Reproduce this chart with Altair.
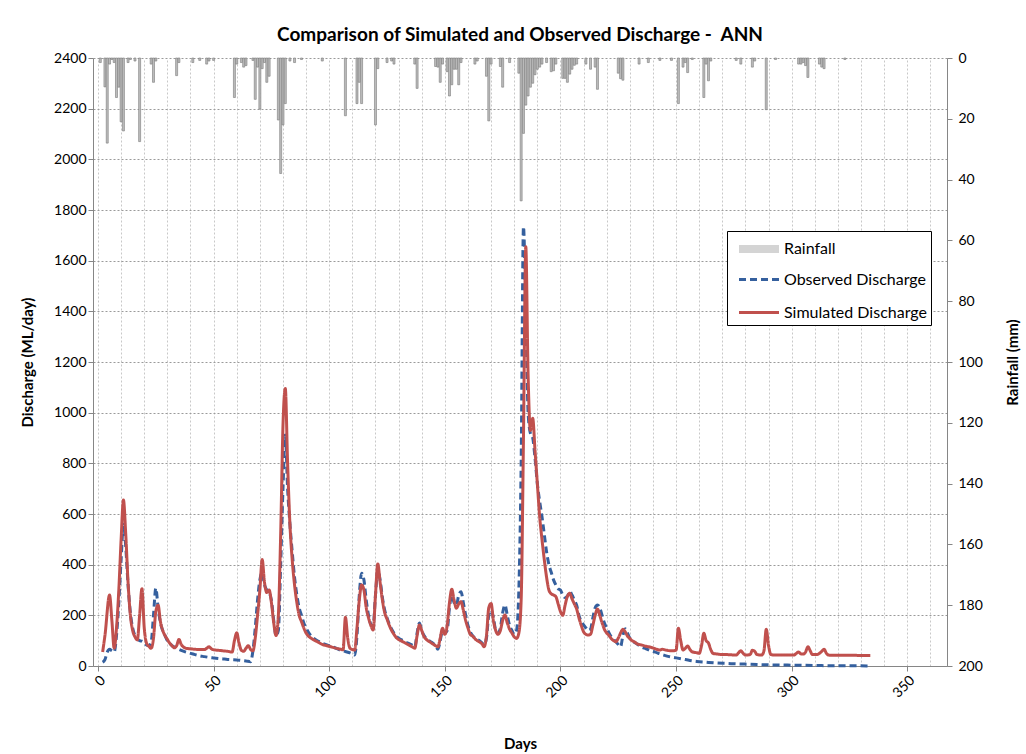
import altair as alt
import pandas as pd

# ---------------- data ----------------
rain_days = [1, 3, 4, 5, 6, 7, 8, 9, 10, 11, 13, 14, 16, 18, 23, 24, 25, 34, 35, 41, 44, 47, 48, 50,
             59, 60, 62, 63, 64, 67, 68, 69, 70, 71, 72, 73, 74, 78, 79, 80, 81, 83, 85, 88, 97,
             107, 112, 113, 114, 120, 121, 125, 127, 128,
             137, 138, 146, 147, 148, 149, 151, 152, 153, 154, 155, 156, 157, 163, 164, 168, 169, 170,
             174, 175, 178, 182, 183, 184, 185, 186, 187, 188, 189, 190, 191, 192, 194, 196, 197, 198,
             201, 202, 203, 204, 205, 206, 207, 211, 213, 215, 216, 225, 226, 227, 234, 238, 243, 248,
             251, 253, 254, 255, 257, 262, 263, 264, 265, 276, 278, 283, 284, 289, 293,
             303, 304, 305, 306, 307, 312, 313, 314, 323]
rain_mm = [1.5, 9.5, 28, 2, 0.5, 1.5, 13, 9.6, 21, 24, 1.5, 0.5, 1, 27.5, 2, 8, 1, 5.8, 1.5, 1.5, 0.8, 2, 1, 0.8,
           13, 2, 1.5, 3, 2.5, 0.8, 13.6, 3, 16.8, 3.5, 1.5, 8, 6, 20.4, 38, 22, 15, 1, 1.5, 0.5, 1,
           19, 15, 8, 15, 22, 3.5, 1.5, 1, 2,
           2, 10, 2.8, 3, 8, 2, 4.5, 12.5, 8.8, 3.7, 3.7, 8.8, 1.5, 2, 1, 6, 20.7, 2,
           2.8, 9.6, 1.5, 5, 47, 24.8, 15.5, 12.5, 9.6, 8.3, 5.5, 3.7, 3, 2, 1.5, 4.5, 4.2, 2,
           6.7, 6.7, 8, 5.3, 3.7, 2.4, 2, 2, 3.7, 3, 10.3, 5, 6.8, 7.3, 2, 1.5, 0.8, 0.8,
           15, 3, 1.5, 4.8, 0.5, 13, 2, 7.5, 1, 0.8, 2, 3, 1, 17, 0.5,
           2, 2, 1.5, 2.5, 6.4, 2, 3, 3.5, 0.5]

obs_days = [2, 3, 4, 5, 6, 7, 8, 9, 10, 11, 12, 13, 14, 15, 16, 17, 18, 19, 20, 21, 22, 23, 24, 25, 26, 27,
            28, 29, 30, 31, 32, 34, 36, 38, 40, 42, 44, 46, 48, 50, 52, 54, 56, 58, 60, 62, 64, 66,
            67, 68, 69, 70, 71, 72, 73, 74, 75, 76, 77, 78, 79, 80, 81, 82, 83, 84, 85, 86, 87, 88, 89,
            90, 92, 94, 97, 100, 103, 105, 107, 109, 110, 111, 112, 113, 114, 115, 116, 117, 118, 119,
            120, 121, 122, 123, 124, 125, 126, 127, 128, 129, 130, 132, 134, 136, 137, 138, 139, 140,
            141, 142, 144, 146, 147, 148, 149, 150, 151, 152, 153, 154, 155, 156, 157, 158, 159, 160,
            161, 162, 163, 165, 167, 168, 169, 170, 171, 172, 173, 174, 175, 176, 177, 178, 179, 180,
            181, 182, 183, 184, 185, 186, 187, 188, 189, 190, 191, 192, 193, 194, 195, 196, 197, 198,
            199, 200, 201, 202, 203, 204, 205, 206, 207, 208, 209, 210, 211, 212, 213, 214, 215, 216,
            217, 218, 219, 220, 221, 222, 223, 224, 225, 226, 227, 228, 229, 230, 231, 233, 235, 237,
            239, 241, 243, 245, 247, 250, 253, 256, 259, 263, 267, 272, 277, 282, 288, 295, 302, 310,
            318, 326, 334]
obs_q = [15, 25, 55, 66, 60, 55, 120, 250, 420, 560, 470, 320, 210, 150, 120, 108, 100, 98, 92, 83, 80, 95,
         200, 307, 230, 170, 140, 120, 100, 90, 80, 70, 62, 55, 50, 45, 40, 37, 34, 32, 30, 28, 26, 25,
         24, 22, 20, 17, 60, 150, 260, 340, 370, 320, 300, 290, 260, 180, 120, 140, 400, 700, 912, 700,
         560, 450, 350, 280, 230, 200, 170, 150, 120, 105, 90, 80, 70, 62, 57, 52, 48, 43, 120, 280,
         366, 340, 260, 200, 165, 160, 280, 380, 340, 270, 220, 190, 165, 145, 130, 118, 110, 100,
         90, 82, 75, 130, 170, 140, 120, 108, 95, 80, 66, 100, 140, 130, 140, 230, 280, 250, 240, 280,
         293, 250, 200, 160, 135, 120, 110, 100, 85, 110, 200, 220, 190, 140, 130, 150, 210, 241, 200,
         160, 140, 125, 140, 300, 800, 1734, 1400, 1000, 918, 900, 820, 720, 650, 590, 520, 450, 400,
         370, 340, 320, 305, 300, 280, 270, 275, 295, 280, 260, 240, 200, 175, 162, 150, 140, 145, 190,
         230, 241, 230, 200, 170, 150, 130, 115, 105, 95, 85, 76, 120, 147, 130, 110, 100, 88, 75, 68,
         60, 55, 48, 42, 37, 32, 27, 22, 18, 15, 12, 10, 8, 7, 5, 4, 3, 2, 1, 1, 0]

sim_days = [2, 3, 5, 6, 7, 8, 9, 10, 11, 12, 13, 14, 15, 16, 17, 18, 19, 20, 21, 22, 23, 24, 25, 26, 27,
            28, 29, 30, 31, 32, 33, 34, 35, 36, 37, 38, 40, 42, 44, 46, 47, 48, 49, 50, 52, 54, 56, 58,
            59, 60, 61, 62, 63, 64, 65, 66, 67, 68, 69, 70, 71, 72, 73, 74, 75, 76, 77, 78, 79, 80, 81,
            82, 83, 84, 85, 86, 87, 88, 89, 90, 91, 93, 95, 97, 99, 101, 103, 105, 106, 107, 108, 109,
            110, 111, 112, 113, 114, 115, 116, 117, 118, 119, 120, 121, 122, 123, 124, 125, 126, 127,
            128, 129, 130, 132, 134, 136, 137, 138, 139, 140, 141, 142, 144, 146, 147, 148, 149, 150,
            151, 152, 153, 154, 155, 156, 157, 158, 159, 160, 161, 162, 163, 164, 165, 166, 167, 168,
            169, 170, 171, 172, 173, 174, 175, 176, 177, 178, 179, 180, 181, 182, 183, 184, 185, 186,
            187, 188, 189, 190, 191, 192, 193, 194, 195, 196, 197, 198, 199, 200, 201, 202, 203, 204,
            205, 206, 207, 208, 209, 210, 211, 212, 213, 214, 215, 216, 217, 218, 219, 220, 221, 222,
            223, 224, 225, 226, 227, 228, 229, 230, 231, 232, 233, 235, 237, 239, 241, 243, 244, 246,
            248, 250, 251, 252, 253, 254, 255, 256, 257, 259, 260, 261, 262, 263, 264, 265, 266, 268,
            270, 272, 274, 276, 277, 278, 279, 280, 282, 283, 284, 285, 287, 288, 289, 290, 291, 293,
            295, 297, 299, 301, 302, 303, 304, 305, 306, 307, 308, 309, 311, 312, 313, 314, 315, 316,
            318, 320, 322, 324, 326, 328, 330, 332, 334]
sim_q = [55, 120, 280, 180, 70, 150, 300, 500, 655, 520, 330, 200, 140, 115, 103, 200, 305, 150, 90, 78,
         70, 110, 215, 240, 175, 140, 120, 105, 90, 80, 72, 80, 105, 85, 75, 70, 68, 66, 65, 65, 70, 76,
         68, 64, 62, 60, 58, 55, 100, 131, 90, 62, 58, 70, 80, 65, 60, 110, 200, 300, 420, 330, 290,
         300, 250, 170, 120, 200, 520, 950, 1095, 800, 560, 418, 320, 250, 200, 175, 150, 130, 118,
         105, 95, 85, 80, 75, 70, 66, 64, 192, 110, 70, 65, 63, 150, 260, 320, 300, 230, 190, 160,
         142, 280, 403, 330, 260, 210, 185, 160, 140, 125, 112, 105, 95, 85, 75, 70, 120, 162, 140,
         116, 105, 92, 80, 76, 110, 149, 125, 160, 250, 303, 260, 228, 245, 254, 220, 180, 150, 125,
         118, 108, 100, 95, 88, 76, 120, 230, 247, 180, 140, 125, 140, 180, 201, 170, 145, 130, 115,
         109, 130, 260, 900, 1655, 1150, 930, 978, 850, 720, 590, 500, 420, 350, 300, 285, 280, 274,
         245, 215, 200, 240, 275, 287, 265, 245, 225, 190, 160, 135, 125, 122, 125, 160, 200, 225, 200,
         170, 145, 130, 120, 108, 100, 96, 110, 130, 145, 135, 118, 108, 100, 95, 88, 83, 78, 74, 68,
         63, 66, 62, 60, 62, 149, 100, 63, 70, 79, 65, 56, 52, 50, 80, 129, 100, 91, 65, 50, 47, 45,
         45, 44, 43, 52, 60, 50, 43, 45, 62, 58, 45, 43, 60, 145, 80, 45, 43, 43, 43, 43, 43, 50, 55,
         48, 47, 55, 76, 60, 45, 45, 50, 58, 66, 50, 43, 42, 42, 42, 42, 42, 42, 41, 41, 41]

series_names = ["Rainfall", "Observed Discharge", "Simulated Discharge"]
series_colors = ["#d4d4d4", "#35609e", "#c0504d"]
series_dashes = [[1, 0], [7, 4], [1, 0]]
series_widths = [8, 3, 3]
x_grid_values = list(range(0, 361, 10))
y_tick_values = list(range(0, 2401, 200))
rain_tick_values = list(range(0, 201, 20))

TITLE = "Comparison of Simulated and Observed Discharge - \u00a0ANN"
FONT = "Lato"

rain_df = pd.DataFrame({"day": rain_days, "rain": rain_mm})
obs_df = pd.DataFrame({"day": obs_days, "q": obs_q, "series": "Observed Discharge"})
sim_df = pd.DataFrame({"day": sim_days, "q": sim_q, "series": "Simulated Discharge"})

LINE_PATH = "M-1,0H3"
TICK_COND = {"condition": {"test": "datum.value % 50 === 0", "value": 1}, "value": 0}


def build(tick_cond=True):
    x_axis_kw = dict(values=x_grid_values, title="Days",
                     labelExpr="datum.value % 50 === 0 ? datum.label : ''",
                     labelAngle=315, labelOverlap=False, gridColor="#c8c8c8",
                     gridDash=[2, 2], grid=True, titlePadding=36, tickSize=5)
    if tick_cond:
        x_axis_kw["tickOpacity"] = TICK_COND
    x_enc = alt.X("day:Q", scale=alt.Scale(domain=[0, 365], nice=False, zero=False),
                  axis=alt.Axis(**x_axis_kw))

    legend_kw = dict(orient="none", legendX=634, legendY=173, title=None,
                     fillColor="#ffffff", strokeColor="#000000", padding=4,
                     symbolSize=400, symbolOffset=4, gridAlign="all",
                     labelOffset=21, rowPadding=3, labelFontSize=16, labelFont=FONT,
                     labelColor="#000000", symbolType=LINE_PATH)
    color_enc = alt.Color("series:N",
                          scale=alt.Scale(domain=series_names, range=series_colors),
                          legend=alt.Legend(**legend_kw))
    dash_enc = alt.StrokeDash("series:N",
                              scale=alt.Scale(type="ordinal", domain=series_names,
                                              range=series_dashes),
                              legend=alt.Legend(**legend_kw))
    width_enc = alt.StrokeWidth("series:N",
                                scale=alt.Scale(type="ordinal", domain=series_names,
                                                range=series_widths),
                                legend=alt.Legend(**legend_kw))

    y_left = alt.Y("q:Q", scale=alt.Scale(domain=[0, 2400], nice=False),
                   axis=alt.Axis(values=y_tick_values, title="Discharge (ML/day)", orient="left",
                                 grid=True, gridColor="#9a9a9a", gridDash=[2, 2], format="d",
                                 titlePadding=18, tickSize=5))

    bars = alt.Chart(rain_df).mark_bar(width=2, fill="#bdbdbd", stroke="#7a7a7a",
                                       strokeWidth=0.6).encode(
        x=x_enc,
        y=alt.Y("rain:Q", scale=alt.Scale(domain=[0, 200], reverse=True, nice=False),
                axis=alt.Axis(values=rain_tick_values, title="Rainfall (mm)", orient="right",
                              grid=False, titleAngle=270, titlePadding=38, tickSize=5,
                              labelPadding=6)),
    )

    obs = alt.Chart(obs_df).mark_line(interpolate="monotone").encode(
        x=x_enc, y=y_left, color=color_enc, strokeDash=dash_enc, strokeWidth=width_enc)
    sim = alt.Chart(sim_df).mark_line(interpolate="monotone").encode(
        x=x_enc, y=y_left, color=color_enc, strokeDash=dash_enc, strokeWidth=width_enc)

    lines = alt.layer(obs, sim)
    chart = alt.layer(bars, lines).resolve_scale(y="independent").properties(
        width=854, height=608,
        autosize=alt.AutoSizeParams(type="none"),
        padding={"left": 93, "top": 58, "right": 79, "bottom": 88},
        title=alt.Title(TITLE, fontSize=19, font=FONT, fontWeight="bold", color="#000000",
                        anchor="middle", offset=6),
        background="#ffffff",
    ).configure_view(stroke=None).configure_axis(
        domainColor="#868686", tickColor="#868686", labelColor="#000000",
        labelFont=FONT, labelFontSize=14, titleFont=FONT, titleFontSize=15,
        titleFontWeight="bold", titleColor="#000000",
    )
    return chart


try:
    chosen = build(True)
    chosen.to_dict()
except Exception:
    chosen = build(False)

chosen.save("out.html", embed_options={"renderer": "svg", "actions": False})
